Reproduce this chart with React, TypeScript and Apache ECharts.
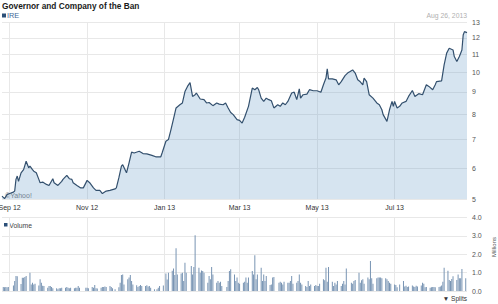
import React, { useEffect, useRef } from 'react';
import * as echarts from 'echarts';

const titleText = 'Governor and Company of the Ban';
const tickerText = 'IRE';
const asOfText = 'Aug 26, 2013';
const volumeText = 'Volume';
const unitText = 'Millions';
const splitsText = '▼ Splits';
const watermarkText = '©Yahoo!';

const priceDates = [
  '2012-08-26','2012-08-28','2012-08-30','2012-09-01','2012-09-04','2012-09-05','2012-09-06','2012-09-07','2012-09-08','2012-09-10',
  '2012-09-12','2012-09-14','2012-09-16','2012-09-17','2012-09-19','2012-09-20','2012-09-22','2012-09-24','2012-09-25','2012-09-27',
  '2012-09-30','2012-10-02','2012-10-05','2012-10-06','2012-10-09','2012-10-12','2012-10-13','2012-10-16','2012-10-18','2012-10-20',
  '2012-10-21','2012-10-24','2012-10-27','2012-10-29','2012-11-01','2012-11-03','2012-11-06','2012-11-08','2012-11-11','2012-11-13',
  '2012-11-16','2012-11-19','2012-11-23','2012-11-24','2012-11-26','2012-11-28','2012-11-29','2012-12-02','2012-12-04','2012-12-06',
  '2012-12-08','2012-12-12','2012-12-15','2012-12-18','2012-12-22','2012-12-25','2012-12-29','2012-12-30','2013-01-02','2013-01-04',
  '2013-01-06','2013-01-08','2013-01-10','2013-01-13','2013-01-15','2013-01-17','2013-01-19','2013-01-21','2013-01-23','2013-01-25',
  '2013-01-26','2013-01-29','2013-02-01','2013-02-03','2013-02-05','2013-02-08','2013-02-11','2013-02-13','2013-02-16','2013-02-18',
  '2013-02-20','2013-02-22','2013-02-24','2013-02-27','2013-03-01','2013-03-03','2013-03-05','2013-03-08','2013-03-11','2013-03-13',
  '2013-03-15','2013-03-16','2013-03-18','2013-03-20','2013-03-22','2013-03-24','2013-03-26','2013-03-28','2013-03-31','2013-04-02',
  '2013-04-04','2013-04-06','2013-04-08','2013-04-11','2013-04-13','2013-04-15','2013-04-17','2013-04-18','2013-04-20','2013-04-23',
  '2013-04-25','2013-04-28','2013-05-01','2013-05-04','2013-05-06','2013-05-08','2013-05-09','2013-05-10','2013-05-13','2013-05-16',
  '2013-05-18','2013-05-20','2013-05-23','2013-05-25','2013-05-27','2013-05-29','2013-05-31','2013-06-02','2013-06-04','2013-06-06',
  '2013-06-07','2013-06-09','2013-06-11','2013-06-14','2013-06-17','2013-06-19','2013-06-21','2013-06-22','2013-06-25','2013-06-27',
  '2013-06-29','2013-06-30','2013-07-01','2013-07-03','2013-07-05','2013-07-07','2013-07-10','2013-07-12','2013-07-15','2013-07-17',
  '2013-07-20','2013-07-23','2013-07-26','2013-07-28','2013-07-31','2013-08-02','2013-08-03','2013-08-07','2013-08-09','2013-08-11',
  '2013-08-13','2013-08-16','2013-08-17','2013-08-19','2013-08-21','2013-08-23','2013-08-24','2013-08-25','2013-08-27',
];

const prices = [
  5.18, 5.11, 5.22, 5.25, 5.29, 5.32, 5.66, 5.76, 5.60, 5.86,
  5.96, 6.23, 6.02, 6.07, 5.96, 5.91, 5.86, 5.66, 5.56, 5.58,
  5.51, 5.48, 5.68, 5.56, 5.48, 5.60, 5.66, 5.78, 5.68, 5.66,
  5.56, 5.48, 5.41, 5.41, 5.63, 5.56, 5.41, 5.34, 5.34, 5.25,
  5.32, 5.34, 5.38, 5.41, 5.71, 6.07, 6.12, 5.86, 6.18, 6.54,
  6.51, 6.57, 6.49, 6.48, 6.43, 6.38, 6.38, 6.51, 6.93, 6.99,
  7.37, 7.80, 8.27, 8.41, 8.49, 9.02, 9.27, 9.46, 8.79, 8.87,
  8.95, 8.67, 8.64, 8.49, 8.51, 8.37, 8.49, 8.44, 8.41, 8.49,
  8.27, 8.07, 7.98, 7.77, 7.74, 7.63, 7.87, 8.34, 9.19, 9.11,
  9.22, 9.11, 8.71, 8.56, 8.71, 8.64, 8.59, 8.27, 8.41, 8.34,
  8.49, 8.41, 8.56, 8.95, 8.99, 8.64, 9.15, 8.71, 8.87, 8.90,
  9.11, 9.06, 9.06, 8.99, 9.35, 9.69, 10.18, 9.65, 9.65, 9.60,
  9.35, 9.51, 9.82, 9.95, 10.03, 10.12, 9.95, 9.60, 9.50, 9.35,
  9.69, 9.51, 8.87, 8.71, 8.49, 8.41, 8.19, 7.98, 7.70, 8.19,
  8.56, 8.34, 8.56, 8.27, 8.34, 8.49, 8.56, 8.79, 9.07, 8.79,
  8.92, 8.87, 9.35, 9.27, 9.11, 9.35, 9.51, 9.55, 10.39, 11.06,
  11.35, 11.25, 10.86, 10.58, 10.86, 11.25, 12.18, 12.40, 12.33,
];

const priceTicks = [5, 6, 7, 8, 9, 10, 11, 12, 13];
const priceMin = 5.1;
const priceMax = 13;
const monthTicks = ['2012-09-01', '2012-11-01', '2013-01-01', '2013-03-01', '2013-05-01', '2013-07-01'];
const monthNames = ['Jan', 'Feb', 'Mar', 'Apr', 'May', 'Jun', 'Jul', 'Aug', 'Sep', 'Oct', 'Nov', 'Dec'];
const rangeStart = '2012-08-26';
const rangeEnd = '2013-08-27';

const firstTradingDay = '2012-08-27';
const lastTradingDay = '2013-08-26';
const holidays = ['2012-09-03', '2012-10-29', '2012-10-30', '2012-11-22', '2012-12-25', '2013-01-01', '2013-01-21', '2013-02-18', '2013-03-29', '2013-05-27', '2013-07-04'];

const volAug12 = [0.22, 0.2, 0.22, 0.2, 0.22];
const volSep12 = [0.3, 0.55, 0.82, 0.8, 0.38, 0.72, 0.72, 0.76, 0.82, 1.0, 0.36, 0.45, 0.35, 0.4, 0.3, 0.64, 0.45, 0.28, 0.27];
const volOct12 = [0.18, 0.27, 0.27, 0.22, 0.15, 0.15, 0.09, 0.15, 0.15, 0.18, 0.18, 0.22, 0.18, 0.15, 0.18, 0.15, 0.18, 0.18, 0.27, 0.18, 0.18];
const volNov12 = [0.18, 0.15, 0.22, 0.18, 0.33, 0.15, 0.13, 0.18, 0.22, 0.22, 0.25, 0.22, 0.27, 0.22, 0.15, 0.1, 0.2, 0.45, 0.87, 0.9, 0.36];
const volDec12 = [0.64, 0.73, 0.87, 0.55, 0.36, 0.31, 0.22, 0.27, 0.33, 0.27, 0.27, 0.31, 0.24, 0.27, 0.18, 0.09, 0.1, 0.18, 0.27, 0.3];
const volJan13 = [0.95, 0.63, 1.0, 1.1, 1.23, 0.87, 2.32, 0.9, 0.95, 1.0, 0.55, 1.54, 1.0, 1.36, 0.9, 1.3, 3.04, 1.27, 1.0, 1.12, 1.09];
const volFeb13 = [1.0, 0.45, 0.82, 0.64, 1.31, 0.9, 0.45, 0.55, 0.45, 0.5, 0.27, 0.22, 0.55, 1.09, 1.18, 0.9, 0.55, 0.73, 0.45];
const volMar13 = [0.4, 0.45, 0.51, 0.73, 0.45, 0.73, 1.09, 0.9, 1.94, 0.64, 0.9, 1.27, 0.55, 0.9, 0.55, 0.82, 0.33, 0.36, 0.73, 0.76];
const volApr13 = [0.45, 0.51, 0.45, 0.36, 0.51, 0.45, 0.45, 0.55, 0.82, 0.4, 0.45, 0.55, 0.9, 0.45, 0.36, 0.27, 0.22, 0.55, 0.27, 0.36, 0.27, 0.33];
const volMay13 = [0.27, 0.27, 0.4, 0.64, 0.58, 1.27, 0.51, 1.3, 0.51, 0.27, 0.45, 0.36, 0.55, 0.27, 0.4, 0.55, 0.36, 1.23, 0.45, 0.4, 0.55, 0.6];
const volJun13 = [1.0, 0.45, 0.58, 0.64, 0.4, 0.73, 0.64, 1.63, 0.69, 0.4, 0.69, 0.73, 0.73, 0.73, 0.69, 0.69, 0.64, 0.55, 0.45, 0.4];
const volJul13 = [0.36, 0.33, 0.2, 0.35, 0.55, 0.25, 0.28, 0.22, 0.25, 0.3, 0.25, 0.22, 0.28, 0.25, 0.3, 0.45, 0.4, 0.2, 0.22, 0.18, 0.2, 0.22];
const volAug13 = [0.22, 0.2, 0.22, 0.25, 0.3, 0.5, 1.27, 1.1, 0.6, 0.55, 0.65, 0.8, 0.6, 0.9, 0.7, 0.7, 1.2, 0.7];
const volumeTicks = [0, 1, 2, 3, 4];

const FONT = '"Liberation Sans", Arial, sans-serif';

function toTime(s: string): number {
  const [y, m, d] = s.split('-').map(Number);
  return new Date(y, m - 1, d).getTime();
}

function pad(n: number): string {
  return n < 10 ? '0' + n : String(n);
}

function tradingDays(): number[] {
  const out: number[] = [];
  const hol = new Set(holidays);
  const [y0, m0, d0] = firstTradingDay.split('-').map(Number);
  const end = toTime(lastTradingDay);
  const cur = new Date(y0, m0 - 1, d0);
  while (cur.getTime() <= end) {
    const wd = cur.getDay();
    const key = `${cur.getFullYear()}-${pad(cur.getMonth() + 1)}-${pad(cur.getDate())}`;
    if (wd !== 0 && wd !== 6 && !hol.has(key)) out.push(cur.getTime());
    cur.setDate(cur.getDate() + 1);
  }
  return out;
}

export default function App() {
  const ref = useRef<HTMLDivElement>(null);

  useEffect(() => {
    if (!ref.current) return;
    const chart = echarts.init(ref.current, undefined, { renderer: 'svg' });

    const yMin = Math.log(priceMin);
    const yMax = Math.log(priceMax);
    const priceData = priceDates.map((d, i) => [toTime(d), Math.log(prices[i])]);
    const priceTickVals = priceTicks.map((v) => Math.min(yMax, Math.max(yMin, Math.log(v))));
    const monthTickVals = monthTicks.map(toTime);

    const volumes = [
      ...volAug12, ...volSep12, ...volOct12, ...volNov12, ...volDec12, ...volJan13, ...volFeb13,
      ...volMar13, ...volApr13, ...volMay13, ...volJun13, ...volJul13, ...volAug13,
    ];
    const days = tradingDays();
    const n = Math.min(days.length, volumes.length);
    const volData: number[][] = [];
    for (let i = 0; i < n; i++) volData.push([days[i], volumes[i]]);

    const gridColor = '#e8e8e8';
    const xMin = toTime(rangeStart);
    const xMax = toTime(rangeEnd);

    const option: any = {
      animation: false,
      textStyle: { fontFamily: FONT },
      grid: [
        { left: 2, right: 31, top: 22.7, height: 176.3, outerBoundsMode: 'none', containLabel: false },
        { left: 2, right: 31, top: 217.5, height: 73.5, outerBoundsMode: 'none', containLabel: false },
      ],
      xAxis: [
        {
          type: 'value', gridIndex: 0, min: xMin, max: xMax, scale: true,
          axisLine: { show: false },
          axisTick: { show: false, customValues: monthTickVals },
          axisLabel: {
            customValues: monthTickVals,
            fontSize: 7, color: '#333', margin: 5, fontFamily: FONT,
            formatter: (v: number) => {
              const d = new Date(v);
              return `${monthNames[d.getMonth()]} ${String(d.getFullYear()).slice(2)}`;
            },
          },
          splitLine: { show: true, lineStyle: { color: gridColor, width: 1 } },
        },
        {
          type: 'value', gridIndex: 1, min: xMin, max: xMax, scale: true,
          axisLine: { show: false },
          axisTick: { show: false, customValues: monthTickVals },
          axisLabel: { show: false, customValues: monthTickVals },
          splitLine: { show: true, lineStyle: { color: gridColor, width: 1 } },
        },
      ],
      yAxis: [
        {
          type: 'value', gridIndex: 0, position: 'right', min: yMin, max: yMax, scale: true,
          axisLine: { show: false },
          axisTick: { show: false, customValues: priceTickVals },
          axisLabel: {
            customValues: priceTickVals,
            fontSize: 7, color: '#555', margin: 5, fontFamily: FONT,
            formatter: (v: number) => String(Math.round(Math.exp(v))),
          },
          splitLine: { show: true, lineStyle: { color: gridColor, width: 1 } },
        },
        {
          type: 'value', gridIndex: 1, position: 'right', min: 0, max: 4, interval: 1,
          axisLine: { show: false },
          axisTick: { show: false },
          axisLabel: {
            fontSize: 7, color: '#555', margin: 5, fontFamily: FONT,
            formatter: (v: number) => v.toFixed(1),
          },
          splitLine: { show: true, lineStyle: { color: gridColor, width: 1 } },
        },
      ],
      series: [
        {
          type: 'line', xAxisIndex: 0, yAxisIndex: 0, data: priceData,
          showSymbol: false, symbol: 'none', silent: true,
          lineStyle: { color: '#33506e', width: 1.2 },
          areaStyle: { color: 'rgb(90,147,196)', opacity: 0.25, origin: 'start' },
        },
        {
          type: 'bar', xAxisIndex: 1, yAxisIndex: 1, data: volData,
          barWidth: 1, silent: true,
          itemStyle: { color: '#7894b3' },
        },
      ],
      graphic: [
        { type: 'text', x: 2, y: 6, z: -1, style: { text: titleText, fontSize: 8.3, fontWeight: 'bold', fontFamily: FONT, fill: '#1a1a1a', verticalAlign: 'middle' } },
        { type: 'rect', shape: { x: 2, y: 13.5, width: 4, height: 4 }, style: { fill: '#2b4f78' } },
        { type: 'text', x: 7, y: 15.5, style: { text: tickerText, fontSize: 7.3, fontFamily: FONT, fill: '#3d6898', verticalAlign: 'middle' } },
        { type: 'text', x: 467, y: 15, style: { text: asOfText, fontSize: 6.8, fontFamily: FONT, fill: '#b0b0b0', align: 'right', verticalAlign: 'middle' } },
        { type: 'text', x: 5, y: 195.5, z: -1, style: { text: watermarkText, fontSize: 7, fontFamily: FONT, fill: '#808080', verticalAlign: 'middle' } },
        { type: 'rect', shape: { x: 4, y: 223, width: 3.5, height: 3.5 }, style: { fill: '#2b4f78' } },
        { type: 'text', x: 9.3, y: 225, style: { text: volumeText, fontSize: 6.8, fontFamily: FONT, fill: '#444', verticalAlign: 'middle' } },
        { type: 'text', x: 494, y: 247, rotation: Math.PI / 2, style: { text: unitText, fontSize: 6, fontFamily: FONT, fill: '#555', align: 'center', verticalAlign: 'middle' } },
        { type: 'text', x: 467, y: 298, style: { text: splitsText, fontSize: 6.5, fontFamily: FONT, fill: '#333', align: 'right', verticalAlign: 'middle' } },
      ],
    };

    chart.setOption(option);
    return () => chart.dispose();
  }, []);

  return (
    <div
      ref={ref}
      style={{ position: 'absolute', left: 0, top: 0, width: 498, height: 304, background: '#fff' }}
    />
  );
}
